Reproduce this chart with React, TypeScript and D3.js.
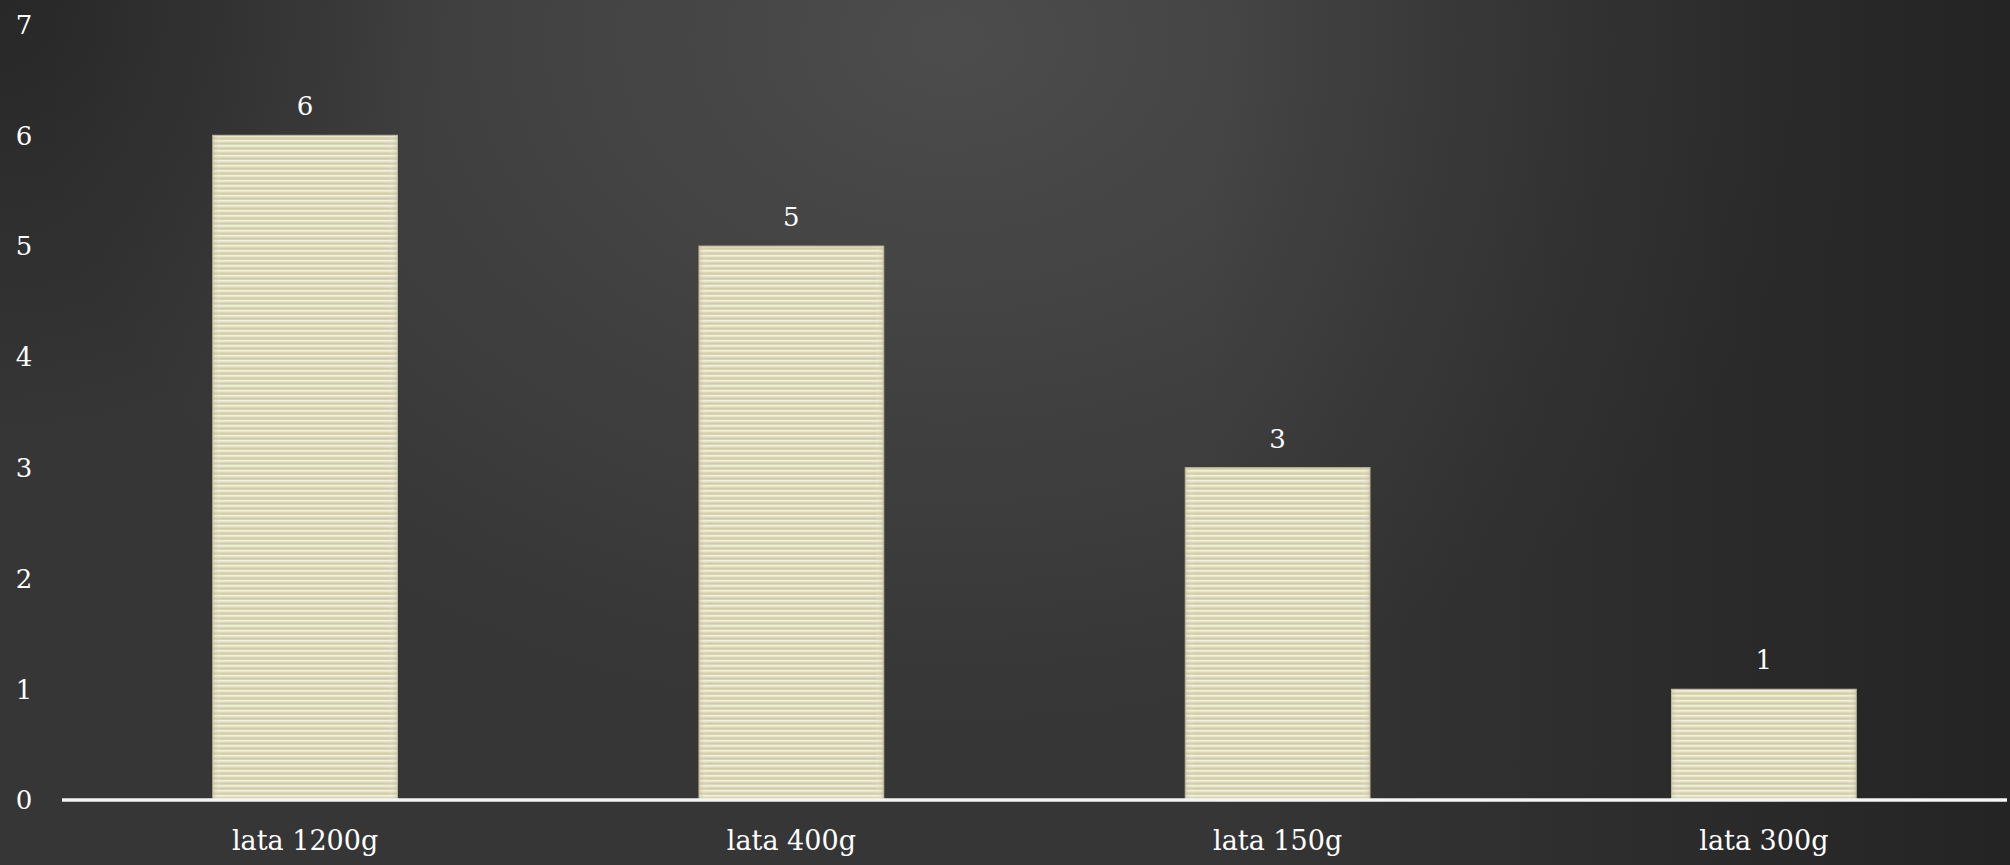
import React from "react";
import * as d3 from "d3";

const categories = ["lata 1200g", "lata 400g", "lata 150g", "lata 300g"];
const values = [6, 5, 3, 1];
const yTicks = [0, 1, 2, 3, 4, 5, 6, 7];

const W = 2010;
const H = 865;
const FONT = "'DejaVu Serif', 'Liberation Serif', serif";

export default function App() {
  const x = d3.scaleBand<string>().domain(categories).range([62, 2007]).padding(0);
  const y = d3.scaleLinear().domain([0, 7]).range([800, 24.5]);
  const barW = x.bandwidth() * 0.38;

  return (
    <svg width={W} height={H} style={{ position: "absolute", left: 0, top: 0, display: "block" }}>
      <defs>
        <radialGradient id="hl" gradientUnits="userSpaceOnUse" cx={950} cy={40} r={800} gradientTransform="translate(950 40) scale(1.15 0.85) translate(-950 -40)">
          <stop offset="0" stopColor="#4c4c4c" stopOpacity="1" />
          <stop offset="1" stopColor="#4c4c4c" stopOpacity="0" />
        </radialGradient>
        <linearGradient id="rightDark" x1="0" x2="1" y1="0" y2="0">
          <stop offset="0.6" stopColor="#1e1e1e" stopOpacity="0" />
          <stop offset="1" stopColor="#1e1e1e" stopOpacity="0.75" />
        </linearGradient>
        <radialGradient id="tlDark" gradientUnits="userSpaceOnUse" cx={0} cy={0} r={450}>
          <stop offset="0" stopColor="#1e1e1e" stopOpacity="0.6" />
          <stop offset="1" stopColor="#1e1e1e" stopOpacity="0" />
        </radialGradient>
        <pattern id="stripes" width="8" height="5" patternUnits="userSpaceOnUse">
          <rect width="8" height="5" fill="#dcd8b6" />
          <rect y="0" width="8" height="1.6" fill="#f1efdf" />
          <rect y="3.2" width="8" height="1" fill="#cfcaa4" />
        </pattern>
        <linearGradient id="edge" x1="0" x2="1" y1="0" y2="0">
          <stop offset="0" stopColor="#b8b390" stopOpacity="0.35" />
          <stop offset="0.05" stopColor="#ffffff" stopOpacity="0" />
          <stop offset="0.95" stopColor="#ffffff" stopOpacity="0" />
          <stop offset="1" stopColor="#b8b390" stopOpacity="0.35" />
        </linearGradient>
      </defs>
      <rect width={W} height={H} fill="#363636" />
      <rect width={W} height={H} fill="url(#hl)" />
      <rect width={W} height={H} fill="url(#rightDark)" />
      <rect width={W} height={H} fill="url(#tlDark)" />

      {yTicks.map((t) => (
        <text key={t} x={24} y={y(t)} dy="0.36em" textAnchor="middle" fill="#ffffff" fontFamily={FONT} fontSize={26}>
          {t}
        </text>
      ))}

      {categories.map((c, i) => {
        const cx = (x(c) as number) + x.bandwidth() / 2;
        return (
          <g key={c}>
            <rect x={cx - barW / 2} y={y(values[i])} width={barW} height={y(0) - y(values[i])} fill="url(#stripes)" stroke="#bdb894" strokeWidth={1} />
            <rect x={cx - barW / 2} y={y(values[i])} width={barW} height={y(0) - y(values[i])} fill="url(#edge)" />
            <text x={cx} y={y(values[i]) - 20} textAnchor="middle" fill="#ffffff" fontFamily={FONT} fontSize={26}>
              {values[i]}
            </text>
            <text x={cx} y={850} textAnchor="middle" fill="#ffffff" fontFamily={FONT} fontSize={27}>
              {c}
            </text>
          </g>
        );
      })}

      <line x1={62} x2={2007} y1={y(0)} y2={y(0)} stroke="#f5f5f5" strokeWidth={3.5} />
    </svg>
  );
}
